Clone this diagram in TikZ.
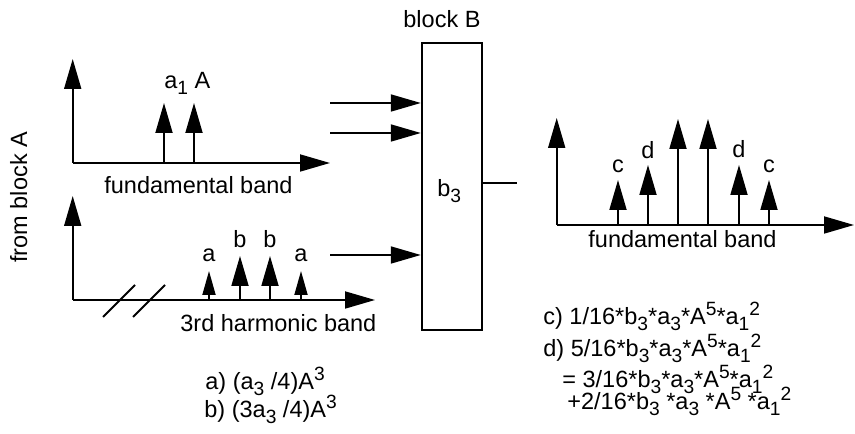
\documentclass[tikz,border=0pt]{standalone}
\usepackage{fontspec}
\setmainfont{Liberation Sans}
\usetikzlibrary{arrows.meta}
\newcommand\sbx[1]{\raisebox{-0.45ex}{\fontsize{9.6bp}{10bp}\selectfont #1}}
\newcommand\spx[1]{\raisebox{0.8ex}{\fontsize{9.6bp}{10bp}\selectfont #1}}
\begin{document}
\begin{tikzpicture}[x=0.5bp,y=-0.5bp,
  every node/.style={font=\fontsize{11.75bp}{14bp}\selectfont, inner sep=0pt},
  arr/.style={-{Triangle[length=15bp,width=8.5bp]}, line width=0.9bp},
  sarr/.style={-{Triangle[length=12bp,width=6.5bp]}, line width=0.9bp},
  plain/.style={line width=0.9bp},
  lbl/.style={anchor=base},
  txt/.style={anchor=base west}]
\useasboundingbox (0,0) rectangle (855,434);

% ---------- upper graph (fundamental band) ----------
\coordinate (O1) at (72.7,163);
\coordinate (Y1) at (72.7,59);
\coordinate (X1) at (330,163);
\draw[arr] (O1) -- (Y1);
\draw[arr] (O1) -- (X1);
\coordinate (p1) at (164,163); \coordinate (p1t) at (164,103);
\coordinate (p2) at (194,163); \coordinate (p2t) at (194,103);
\draw[arr] (p1) -- (p1t);
\draw[arr] (p2) -- (p2t);
\node[txt] (la1) at (164,89) {a\sbx{1} A};
\node[txt] (fb1) at (104,194) {fundamental band};

% ---------- lower graph (3rd harmonic band) ----------
\coordinate (O2) at (72.7,300);
\coordinate (Y2) at (72.7,196);
\coordinate (X2) at (375,300);
\draw[arr] (O2) -- (Y2);
\draw[arr] (O2) -- (X2);
\coordinate (s1a) at (103,317); \coordinate (s1b) at (135,285);
\coordinate (s2a) at (133,317); \coordinate (s2b) at (165,285);
\draw[plain] (s1a) -- (s1b);
\draw[plain] (s2a) -- (s2b);
\coordinate (q1) at (209,300); \coordinate (q1t) at (209,271);
\coordinate (q2) at (240,300); \coordinate (q2t) at (240,256);
\coordinate (q3) at (270,300); \coordinate (q3t) at (270,256);
\coordinate (q4) at (301,300); \coordinate (q4t) at (301,271);
\draw[sarr] (q1) -- (q1t);
\draw[arr] (q2) -- (q2t);
\draw[arr] (q3) -- (q3t);
\draw[sarr] (q4) -- (q4t);
\node[lbl] (la) at (209,262) {a};
\node[lbl] (lb) at (240,248) {b};
\node[lbl] (lb2) at (270,248) {b};
\node[lbl] (la2) at (301,262) {a};
\node[txt] (hb) at (180,332) {3rd harmonic band};
\node[txt] (fa) at (205,390) {a) (a\sbx{3} /4)A\spx{3}};
\node[txt] (fbb) at (204,418) {b) (3a\sbx{3} /4)A\spx{3}};

% ---------- from block A ----------
\node[anchor=base west, rotate=90] (fromA) at (27,263) {from block A};

% ---------- block B ----------
\node[draw, line width=0.9bp, minimum width=30bp, minimum height=143.65bp] (B) at (451.7,186.35) {};
\node[txt] (b3) at (437,197) {b\sbx{3}};
\node[txt] (bB) at (403,28) {block B};
\coordinate (i1) at (330,103);
\coordinate (i2) at (330,133);
\coordinate (i3) at (330,255);
\draw[arr] (i1) -- (i1 -| B.west);
\draw[arr] (i2) -- (i2 -| B.west);
\draw[arr] (i3) -- (i3 -| B.west);
\coordinate (o1) at (517,183);
\draw[plain] (o1 -| B.east) -- (o1);

% ---------- right graph ----------
\coordinate (O3) at (556.7,225);
\coordinate (Y3) at (556.7,118);
\coordinate (X3) at (854,225);
\draw[arr] (O3) -- (Y3);
\draw[arr] (O3) -- (X3);
\foreach \x/\t [count=\i] in {618/180,648/165,678/119,708/119,739/165,769/180}{
  \coordinate (r\i) at (\x,225);
  \coordinate (r\i t) at (\x,\t);
  \draw[arr] (r\i) -- (r\i t);
}
\node[lbl] (lc1) at (618,173) {c};
\node[lbl] (ld1) at (648,159) {d};
\node[lbl] (ld2) at (739,158) {d};
\node[lbl] (lc2) at (769,173) {c};
\node[txt] (fb3) at (588,248) {fundamental band};
\node[txt] (fc) at (543,325) {c) 1/16*b\sbx{3}*a\sbx{3}*A\spx{5}*a\sbx{1}\spx{2}};
\node[txt] (fd) at (543,357) {d) 5/16*b\sbx{3}*a\sbx{3}*A\spx{5}*a\sbx{1}\spx{2}};
\node[txt] (fe) at (562,388) {= 3/16*b\sbx{3}*a\sbx{3}*A\spx{5}*a\sbx{1}\spx{2}};
\node[txt] (ff) at (567,410) {+2/16*b\sbx{3} *a\sbx{3} *A\spx{5} *a\sbx{1}\spx{2}};
\end{tikzpicture}
\end{document}
